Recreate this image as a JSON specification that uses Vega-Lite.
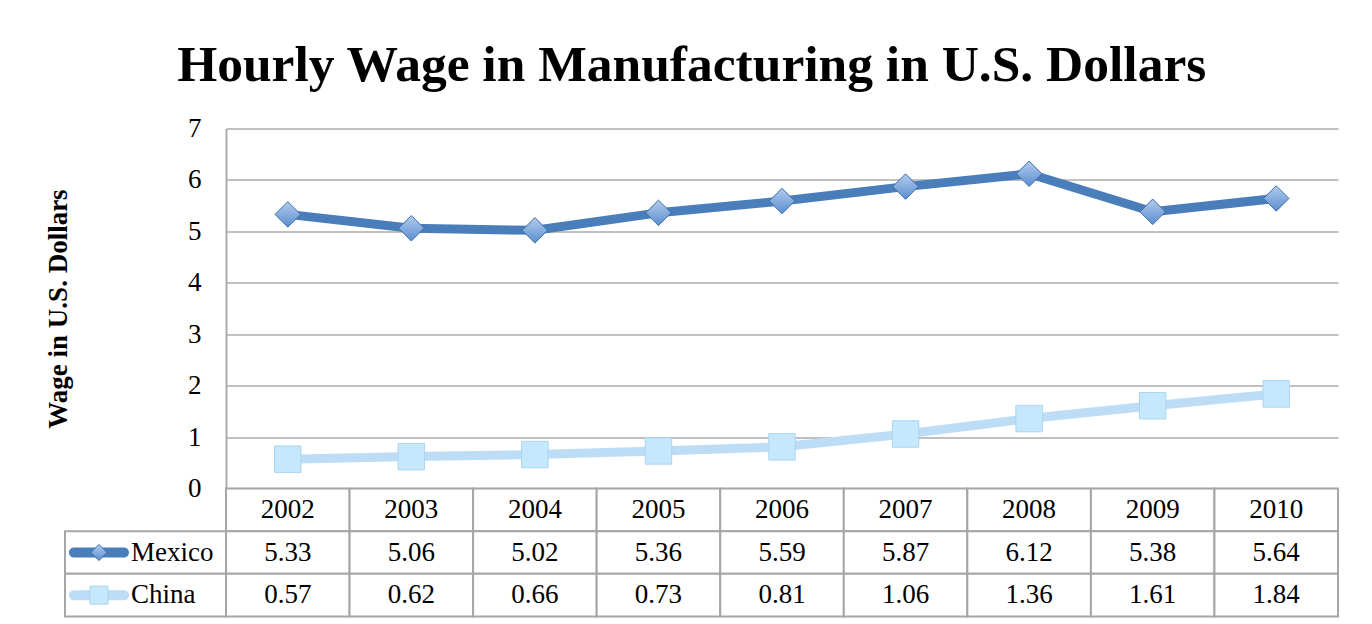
{
  "$schema": "https://vega.github.io/schema/vega-lite/v6.json",
  "padding": {"left": 44, "top": 39.5, "right": 10, "bottom": 0},
  "background": "white",
  "bounds": "flush",
  "spacing": 0,
  "title": {
    "text": "Hourly Wage in Manufacturing in U.S. Dollars",
    "font": "Liberation Serif",
    "fontSize": 51.5,
    "fontWeight": "bold",
    "color": "black",
    "anchor": "middle",
    "frame": "bounds",
    "offset": 23
  },
  "config": {"view": {"stroke": null}, "font": "Liberation Serif"},
  "datasets": {
    "wages": [
      {"year": "2002", "series": "Mexico", "value": 5.33},
      {"year": "2003", "series": "Mexico", "value": 5.06},
      {"year": "2004", "series": "Mexico", "value": 5.02},
      {"year": "2005", "series": "Mexico", "value": 5.36},
      {"year": "2006", "series": "Mexico", "value": 5.59},
      {"year": "2007", "series": "Mexico", "value": 5.87},
      {"year": "2008", "series": "Mexico", "value": 6.12},
      {"year": "2009", "series": "Mexico", "value": 5.38},
      {"year": "2010", "series": "Mexico", "value": 5.64},
      {"year": "2002", "series": "China", "value": 0.57},
      {"year": "2003", "series": "China", "value": 0.62},
      {"year": "2004", "series": "China", "value": 0.66},
      {"year": "2005", "series": "China", "value": 0.73},
      {"year": "2006", "series": "China", "value": 0.81},
      {"year": "2007", "series": "China", "value": 1.06},
      {"year": "2008", "series": "China", "value": 1.36},
      {"year": "2009", "series": "China", "value": 1.61},
      {"year": "2010", "series": "China", "value": 1.84}
    ]
  },
  "data": {"name": "wages"},
  "vconcat": [
    {
      "width": 1112,
      "height": 360,
      "encoding": {
        "x": {"field": "year", "type": "ordinal", "scale": {"type": "point", "padding": 0.5}, "axis": null},
        "y": {
          "field": "value",
          "type": "quantitative",
          "scale": {"domain": [0, 7], "nice": false},
          "axis": {
            "title": "Wage in U.S. Dollars",
            "titleFont": "Liberation Serif",
            "titleFontSize": 27,
            "titleFontWeight": "bold",
            "titleColor": "black",
            "titlePadding": 115,
            "values": [0, 1, 2, 3, 4, 5, 6, 7],
            "format": "d",
            "grid": true,
            "gridColor": "#ababab",
            "gridWidth": 1.5,
            "domainColor": "#ababab",
            "domainWidth": 2,
            "ticks": false,
            "labelPadding": 25,
            "labelFont": "Liberation Serif",
            "labelFontSize": 27,
            "labelColor": "black"
          }
        }
      },
      "layer": [
        {
          "mark": {"type": "line", "strokeWidth": 9, "strokeJoin": "round", "strokeCap": "round"},
          "encoding": {
            "color": {"field": "series", "type": "nominal", "scale": {"domain": ["Mexico", "China"], "range": ["#4a7ebb", "#bddcf6"]}, "legend": null}
          }
        },
        {
          "transform": [{"filter": "datum.series === 'Mexico'"}],
          "mark": {
            "type": "point", "shape": "diamond", "size": 650, "filled": true, "opacity": 1,
            "fill": {"gradient": "linear", "x1": 0, "y1": 0, "x2": 0, "y2": 1, "stops": [{"offset": 0, "color": "#b3ccee"}, {"offset": 1, "color": "#5b8ed0"}]},
            "stroke": "#3e6da8", "strokeWidth": 1
          }
        },
        {
          "transform": [{"filter": "datum.series === 'China'"}],
          "mark": {"type": "point", "shape": "square", "size": 700, "filled": true, "opacity": 1, "fill": "#c6e8fd", "stroke": "#a9d4f2", "strokeWidth": 1}
        }
      ]
    },
    {
      "width": 1112,
      "height": 128,
      "resolve": {"scale": {"x": "independent"}},
      "layer": [
        {
          "encoding": {
            "x": {"field": "year", "type": "ordinal", "scale": {"type": "band", "paddingInner": 0, "paddingOuter": 0}, "axis": null}
          },
          "layer": [
            {
              "transform": [{"aggregate": [{"op": "count", "as": "n"}], "groupby": ["year"]}],
              "encoding": {
                "y": {"datum": "header", "type": "nominal", "scale": {"domain": ["header", "Mexico", "China"], "paddingInner": 0, "paddingOuter": 0}, "axis": null}
              },
              "layer": [
                {"mark": {"type": "rect", "fill": "white", "stroke": "#a6a6a6", "strokeWidth": 2}},
                {"mark": {"type": "text", "font": "Liberation Serif", "fontSize": 27, "color": "black", "baseline": "middle"}, "encoding": {"text": {"field": "year"}}}
              ]
            },
            {
              "encoding": {
                "y": {"field": "series", "type": "nominal", "scale": {"domain": ["header", "Mexico", "China"], "paddingInner": 0, "paddingOuter": 0}, "axis": null}
              },
              "layer": [
                {"mark": {"type": "rect", "fill": "white", "stroke": "#a6a6a6", "strokeWidth": 2}},
                {"mark": {"type": "text", "font": "Liberation Serif", "fontSize": 27, "color": "black", "baseline": "middle"}, "encoding": {"text": {"field": "value", "type": "quantitative", "format": ".2f"}}}
              ]
            }
          ]
        },
        {
          "transform": [{"filter": "datum.year === '2002'"}],
          "encoding": {
            "y": {"field": "series", "type": "nominal", "scale": {"domain": ["header", "Mexico", "China"], "paddingInner": 0, "paddingOuter": 0}, "axis": null}
          },
          "layer": [
            {
              "mark": {"type": "rect", "fill": "white", "stroke": "#a6a6a6", "strokeWidth": 2},
              "encoding": {"x": {"datum": "lab", "type": "nominal", "scale": {"domain": ["lab"], "range": [-161, 0], "paddingInner": 0, "paddingOuter": 0}, "axis": null}}
            },
            {
              "mark": {"type": "text", "font": "Liberation Serif", "fontSize": 27, "color": "black", "align": "left", "baseline": "middle"},
              "encoding": {"x": {"datum": "lab", "type": "nominal", "bandPosition": 0.41}, "text": {"field": "series"}}
            },
            {
              "transform": [{"filter": "datum.series === 'Mexico'"}],
              "mark": {"type": "point", "shape": "M-0.833,-0.167 L0.833,-0.167 A0.167,0.167 0 0 1 0.833,0.167 L-0.833,0.167 A0.167,0.167 0 0 1 -0.833,-0.167 Z", "size": 3600, "filled": true, "opacity": 1, "fill": "#4a7ebb", "strokeWidth": 0},
              "encoding": {"x": {"datum": "lab", "type": "nominal", "bandPosition": 0.211}}
            },
            {
              "transform": [{"filter": "datum.series === 'Mexico'"}],
              "mark": {
                "type": "point", "shape": "diamond", "size": 260, "filled": true, "opacity": 1,
                "fill": {"gradient": "linear", "x1": 0, "y1": 0, "x2": 0, "y2": 1, "stops": [{"offset": 0, "color": "#b3ccee"}, {"offset": 1, "color": "#5b8ed0"}]},
                "stroke": "#3e6da8", "strokeWidth": 1
              },
              "encoding": {"x": {"datum": "lab", "type": "nominal", "bandPosition": 0.211}}
            },
            {
              "transform": [{"filter": "datum.series === 'China'"}],
              "mark": {"type": "point", "shape": "M-0.833,-0.167 L0.833,-0.167 A0.167,0.167 0 0 1 0.833,0.167 L-0.833,0.167 A0.167,0.167 0 0 1 -0.833,-0.167 Z", "size": 3600, "filled": true, "opacity": 1, "fill": "#bddcf6", "strokeWidth": 0},
              "encoding": {"x": {"datum": "lab", "type": "nominal", "bandPosition": 0.211}}
            },
            {
              "transform": [{"filter": "datum.series === 'China'"}],
              "mark": {"type": "point", "shape": "square", "size": 324, "filled": true, "opacity": 1, "fill": "#c6e8fd", "stroke": "#a9d4f2", "strokeWidth": 1},
              "encoding": {"x": {"datum": "lab", "type": "nominal", "bandPosition": 0.211}}
            }
          ]
        }
      ]
    }
  ]
}
